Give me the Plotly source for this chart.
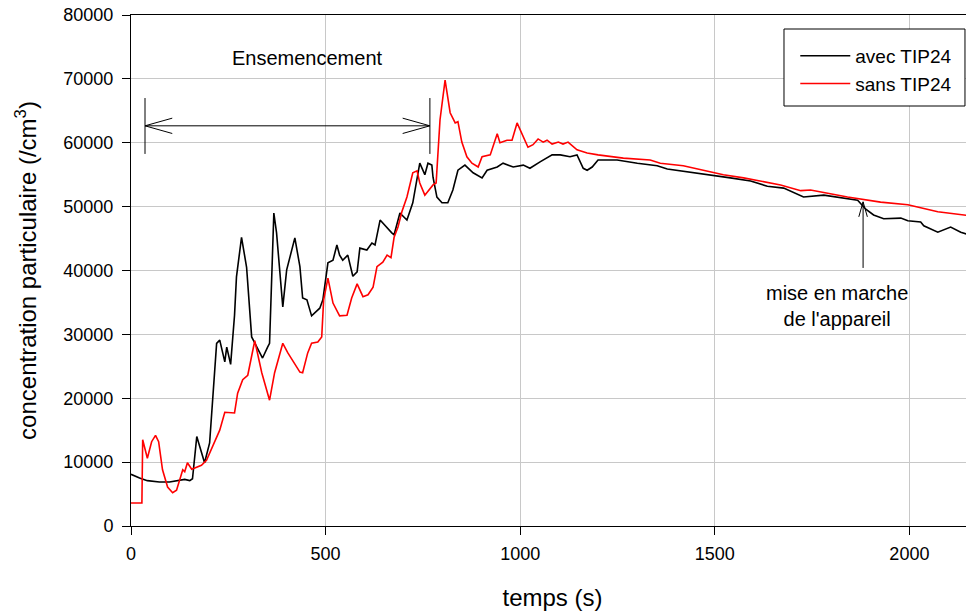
import plotly.graph_objects as go

# ---- data ----
t_avec = [0, 22, 42, 73, 99, 125, 138, 151, 158, 169, 189, 202, 210, 220, 228, 241, 246, 256, 266, 271,
          284, 297, 310, 323, 338, 351, 356, 367, 374, 390, 400, 421, 434, 441, 452, 464, 485, 493, 506,
          519, 529, 536, 544, 557, 570, 581, 588, 606, 619, 627, 640, 670, 676, 691, 709, 724, 742, 755,
          763, 773, 776, 786, 799, 814, 827, 840, 858, 879, 902, 915, 941, 956, 982, 1008, 1025, 1051,
          1082, 1103, 1128, 1146, 1162, 1172, 1185, 1200, 1249, 1301, 1352, 1378, 1437, 1489, 1540, 1592,
          1635, 1677, 1728, 1780, 1823, 1867, 1888, 1908, 1934, 1978, 1996, 2029, 2037, 2073, 2106, 2132,
          2166]
c_avec = [8100, 7500, 7100, 6900, 6900, 7100, 7300, 7100, 7400, 14000, 9900, 13000, 19700, 28600, 29100,
          25700, 28000, 25300, 33000, 39000, 45200, 40500, 29600, 28000, 26300, 28000, 28600, 49000, 45900,
          34300, 40100, 45100, 40600, 35700, 35400, 32900, 34100, 35400, 41200, 41600, 44000, 42400, 41600,
          42400, 39100, 39800, 43500, 43200, 44300, 44000, 47900, 45900, 45600, 49000, 47900, 50600, 56800,
          55000, 56800, 56500, 54600, 51500, 50600, 50600, 52600, 55700, 56500, 55300, 54500, 55700, 56200,
          56800, 56200, 56500, 56000, 57000, 58100, 58100, 57800, 58100, 56000, 55700, 56200, 57300, 57300,
          56800, 56400, 55900, 55400, 55000, 54500, 54000, 53200, 52900, 51500, 51800, 51400, 51000, 49600,
          48700, 48100, 48200, 47800, 47600, 47000, 46000, 46800, 46000, 45300]

t_sans = [0, 28, 30, 42, 53, 63, 71, 81, 94, 107, 117, 125, 133, 138, 145, 156, 169, 181, 194, 210, 228,
          241, 253, 266, 274, 287, 300, 318, 336, 356, 369, 374, 390, 403, 434, 441, 454, 464, 480, 490,
          495, 506, 519, 536, 544, 555, 567, 581, 596, 609, 622, 632, 647, 658, 668, 676, 686, 696, 709,
          724, 735, 742, 755, 768, 776, 784, 794, 807, 820, 833, 840, 850, 863, 876, 892, 902, 923, 941,
          948, 966, 979, 992, 1005, 1020, 1033, 1046, 1059, 1069, 1082, 1098, 1110, 1123, 1146, 1172, 1200,
          1265, 1334, 1360, 1419, 1471, 1522, 1574, 1617, 1669, 1721, 1746, 1841, 1926, 1996, 2073, 2166]
c_sans = [3600, 3600, 13500, 10600, 13200, 14200, 13200, 8800, 6100, 5200, 5600, 7200, 8800, 8500, 9900,
          8900, 9200, 9500, 10300, 12400, 15000, 17800, 17700, 17700, 20800, 22900, 23600, 29000, 24000,
          19700, 24000, 25200, 28600, 27100, 24100, 24000, 27100, 28600, 28800, 29600, 35400, 38800, 34900,
          32900, 32900, 33000, 35700, 37900, 35900, 36200, 37400, 40600, 41300, 42400, 42000, 45200, 46800,
          49200, 51500, 55300, 55600, 53700, 51800, 52900, 53400, 53700, 63600, 69800, 64700, 63100, 63300,
          60100, 57800, 56800, 56200, 57800, 58100, 61400, 60000, 60400, 60400, 63100, 61200, 59300, 59700,
          60600, 60100, 60400, 59800, 60100, 59800, 60100, 58900, 58400, 58100, 57600, 57300, 56800, 56400,
          55700, 55000, 54500, 54000, 53400, 52500, 52600, 51500, 50700, 50300, 49200, 48500]

series_names = ["avec TIP24", "sans TIP24"]
x_ticks = [0, 500, 1000, 1500, 2000]
y_ticks = [0, 10000, 20000, 30000, 40000, 50000, 60000, 70000, 80000]

FONT = "Liberation Sans, Arial, sans-serif"

fig = go.Figure()
fig.add_trace(go.Scatter(x=t_avec, y=c_avec, mode="lines", name=series_names[0],
                         line=dict(color="black", width=1.6)))
fig.add_trace(go.Scatter(x=t_sans, y=c_sans, mode="lines", name=series_names[1],
                         line=dict(color="#ff0000", width=1.6)))

# ---- annotation decorations ----
seed_start, seed_end, seed_y = 36, 768, 62650
shapes = []
ln = dict(color="black", width=1)
shapes.append(dict(type="line", xref="x", yref="y", x0=seed_start, x1=seed_end, y0=seed_y, y1=seed_y, line=ln))
for xv in (seed_start, seed_end):
    shapes.append(dict(type="line", xref="x", yref="y", x0=xv, x1=xv, y0=58250, y1=67000, line=ln))
hx, hy = 70, 1200
shapes += [
    dict(type="line", xref="x", yref="y", x0=seed_start, y0=seed_y, x1=seed_start + hx, y1=seed_y + hy, line=ln),
    dict(type="line", xref="x", yref="y", x0=seed_start, y0=seed_y, x1=seed_start + hx, y1=seed_y - hy, line=ln),
    dict(type="line", xref="x", yref="y", x0=seed_end, y0=seed_y, x1=seed_end - hx, y1=seed_y + hy, line=ln),
    dict(type="line", xref="x", yref="y", x0=seed_end, y0=seed_y, x1=seed_end - hx, y1=seed_y - hy, line=ln),
]
mx, my_tip, my_base = 1881, 50750, 40400
shapes += [
    dict(type="line", xref="x", yref="y", x0=mx, x1=mx, y0=my_base, y1=my_tip, line=ln),
    dict(type="line", xref="x", yref="y", x0=mx, y0=my_tip, x1=mx - 11, y1=my_tip - 2350, line=ln),
    dict(type="line", xref="x", yref="y", x0=mx, y0=my_tip, x1=mx + 11, y1=my_tip - 2350, line=ln),
]
# legend frame
shapes.append(dict(type="rect", xref="paper", yref="paper", x0=0.7746, x1=0.9893, y0=0.8219, y1=0.9726,
                   line=dict(color="black", width=1), fillcolor="white", layer="above"))

annotations = [
    dict(text="Ensemencement", x=454, y=73270, xref="x", yref="y", showarrow=False,
         font=dict(family=FONT, size=20, color="black")),
    dict(text="mise en marche<br>de l'appareil", x=1815, y=34450, xref="x", yref="y", showarrow=False,
         font=dict(family=FONT, size=20, color="black"), align="center"),
]

# page body has an 8px margin: figure is offset by 8px right and down
fig.update_layout(
    width=980, height=606,
    margin=dict(l=123, r=14, t=7, b=88, autoexpand=False),
    paper_bgcolor="white", plot_bgcolor="white",
    font=dict(family=FONT, color="black", size=18),
    shapes=shapes, annotations=annotations,
    showlegend=True,
    legend=dict(x=0.788, y=0.957, xanchor="left", yanchor="top",
                bgcolor="rgba(0,0,0,0)", borderwidth=0,
                font=dict(family=FONT, size=19, color="black"),
                itemwidth=50, tracegroupgap=0),
)
fig.update_xaxes(range=[0, 2166], tickvals=x_ticks, ticks="outside", ticklen=8, tickcolor="black",
                 showline=True, linecolor="black", linewidth=1, mirror=True, automargin=False,
                 showgrid=True, gridcolor="#c8c8c8", gridwidth=1, zeroline=False,
                 tickfont=dict(size=18), ticklabelstandoff=3, ticklabeloverflow="allow",
                 title=dict(text="temps (s)", font=dict(size=24), standoff=26))
fig.update_yaxes(range=[0, 80000], tickvals=y_ticks, tickformat="d", ticks="outside", ticklen=8,
                 tickcolor="black", showline=True, linecolor="black", linewidth=1, automargin=False,
                 showgrid=True, gridcolor="#c8c8c8", gridwidth=1, zeroline=False,
                 tickfont=dict(size=18), ticklabelstandoff=5, ticklabeloverflow="allow",
                 title=dict(text="concentration particulaire (/cm<sup>3</sup>)", font=dict(size=24), standoff=19))

fig.write_html("out.html")
